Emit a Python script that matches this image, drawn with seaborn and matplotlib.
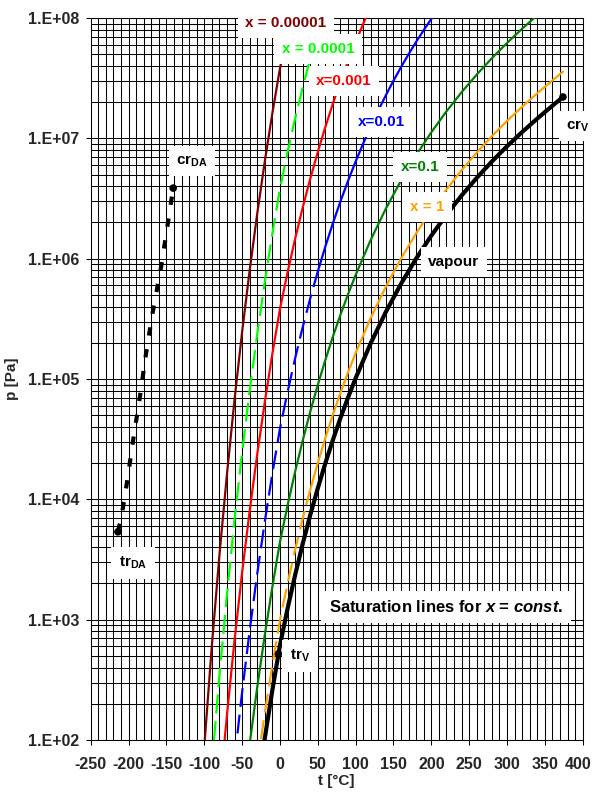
import numpy as np
import pandas as pd
import matplotlib
matplotlib.use("Agg")
import matplotlib.pyplot as plt
import matplotlib.ticker as mticker
import matplotlib.transforms as mtransforms
import seaborn as sns

# ---------------- data ----------------
t_x00001 = [-100, -90, -80, -70, -60, -50, -40, -30, -20, -10, 0, 10, 15]
p_x00001 = [87.1, 601, 3402, 16110, 67177, 245072, 798660, 2.364e6, 6.425e6, 1.6166e7, 3.802e7, 7.638e7, 1.0605e8]

t_x0001 = [-90, -80, -70, -60, -50, -40, -30, -20, -10, 0, 10, 20, 30, 40, 50, 55, 60]
p_x0001 = [60.2, 340.3, 1611, 6719, 24511, 79878, 236400, 642600, 1.6168e6, 3.802e6, 7.639e6,
           1.4551e7, 2.642e7, 4.594e7, 7.684e7, 9.806e7, 1.2408e8]

t_x001 = [-80, -70, -60, -50, -40, -30, -20, -10, 0, 10, 20, 30, 40, 50, 60, 70, 80, 90, 100, 110, 120]
p_x001 = [34.1, 161.4, 672.8, 2455, 7999, 23674, 64356, 161918, 380778, 765044, 1.4572e6, 2.6459e6,
          4.6002e6, 7.6953e6, 1.2426e7, 1.9438e7, 2.9539e7, 4.3723e7, 6.3183e7, 8.9326e7, 1.2377e8]

t_x01 = [-60, -50, -40, -30, -20, -10, 0, 10, 20, 30, 40, 50, 60, 70, 80, 90, 100, 110, 120, 130,
         140, 150, 160, 170, 180, 190, 200, 210]
p_x01 = [68.3, 249.0, 811.5, 2402, 6529, 16426, 38628, 77610, 147825, 268410, 466669, 780646,
         1.2606e6, 1.9719e6, 2.9966e6, 4.4355e6, 6.4096e6, 9.0616e6, 1.2556e7, 1.7082e7, 2.2849e7,
         3.0093e7, 3.9072e7, 5.0066e7, 6.3377e7, 7.9329e7, 9.8270e7, 1.2057e8]

t_x1 = [-45, -40, -30, -20, -10, 0, 10, 20, 30, 40, 50, 60, 70, 80, 90, 100, 120, 140, 160, 180,
        200, 220, 240, 260, 280, 300, 320, 340]
p_x1 = [52.0, 92.7, 274.4, 745.8, 1876, 4413, 8866, 16888, 30663, 53312, 89181, 144010, 225271,
        342329, 506714, 732238, 1.4344e6, 2.6103e6, 4.4636e6, 7.2402e6, 1.1226e7, 1.6748e7,
        2.4165e7, 3.3878e7, 4.6328e7, 6.2005e7, 8.1470e7, 1.0542e8]

t_xone = [-30, -20, -10, 0, 10, 20, 30, 35, 40, 50, 60, 70, 80, 90, 100, 120, 140, 160, 180, 200,
          220, 240, 260, 280, 300, 320, 340, 360, 373.9]
p_xone = [61.6, 167.6, 421.6, 991.4, 1992, 3794, 6889, 9130, 11977, 20035, 32352, 50608, 76906,
          113835, 164500, 322243, 586418, 1.0028e6, 1.6265e6, 2.5220e6, 3.7624e6, 5.4287e6,
          7.6109e6, 1.0408e7, 1.3930e7, 1.8303e7, 2.3683e7, 3.0276e7, 3.578e7]

t_vap = [-30, -20, -10, 0, 10, 20, 30, 40, 50, 60, 70, 80, 90, 100, 120, 140, 160, 180, 200, 220,
         240, 260, 280, 300, 320, 340, 360, 373.9]
p_vap = [38.0, 103.3, 259.9, 611.2, 1228, 2339, 4247, 7384, 12352, 19946, 31201, 47414, 70182,
         101418, 198670, 361540, 618230, 1.0028e6, 1.5549e6, 2.3196e6, 3.3469e6, 4.6923e6,
         6.4166e6, 8.5879e6, 11.284e6, 14.601e6, 18.666e6, 22.06e6]

t_da = [-214, -209, -202, -194, -185, -177, -168, -157, -148, -141]
p_da = [5.37e3, 7.41e3, 1.39e4, 3.09e4, 7.08e4, 1.61e5, 3.61e5, 8.51e5, 1.98e6, 3.86e6]

pt_names = ["crV", "crDA", "trDA", "trV"]
pt_t = [373.9, -141, -214, -2]
pt_p = [2.206e7, 3.86e6, 5.37e3, 520]

x_ticks = [-250, -200, -150, -100, -50, 0, 50, 100, 150, 200, 250, 300, 350, 400]
y_ticks = [1e2, 1e3, 1e4, 1e5, 1e6, 1e7, 1e8]
y_ticklabels = ["1.E+02", "1.E+03", "1.E+04", "1.E+05", "1.E+06", "1.E+07", "1.E+08"]

# ---------------- style ----------------
sns.set_theme(style="white")
plt.rcParams["font.family"] = ["Liberation Sans", "DejaVu Sans"]
plt.rcParams["font.weight"] = "bold"
plt.rcParams["mathtext.fontset"] = "custom"
plt.rcParams["mathtext.rm"] = "Liberation Sans:bold"
plt.rcParams["mathtext.bf"] = "Liberation Sans:bold"
plt.rcParams["mathtext.it"] = "Liberation Sans:bold:italic"

fig = plt.figure(figsize=(5.94, 7.92), dpi=100)
L, R, B, T = 90.7 / 594, 582.7 / 594, 1 - 740 / 792, 1 - 18 / 792
ax = fig.add_axes([L, B, R - L, T - B])

DASH = (0, (8.5, 3.5))


def draw(t, p, color, lw, ls="-", split=None, z=3):
    df = pd.DataFrame({"t": t, "p": p})
    if split is None:
        segs = [(df, ls)]
    else:
        segs = [(df[df.t <= split], DASH), (df[df.t >= split], "-")]
    for d, style in segs:
        sns.lineplot(data=d, x="t", y="p", ax=ax, color=color, lw=lw, linestyle=style,
                     estimator=None, sort=False, zorder=z)


draw(t_x00001, p_x00001, "#800000", 1.6)
draw(t_x0001, p_x0001, "#00ff00", 1.6, ls=DASH)
draw(t_x001, p_x001, "#ff0000", 1.6)
draw(t_x01, p_x01, "#0000ff", 1.6, split=50)
draw(t_x1, p_x1, "#008000", 1.6)
draw(t_xone, p_xone, "#ffa000", 1.6, split=35)
draw(t_vap, p_vap, "#000000", 3.0)
draw(t_da, p_da, "#000000", 3.0, ls=(0, (2.0, 3.3)))
for ln in ax.lines[-1:]:
    ln.set_dash_capstyle("butt")

sns.scatterplot(x=pt_t, y=pt_p, ax=ax, color="black", s=30, zorder=5, edgecolor="none")

ax.set_yscale("log")
ax.set_xlim(-250, 400)
ax.set_ylim(1e2, 1e8)
ax.set_xticks(x_ticks)
ax.set_xticklabels([str(v) for v in x_ticks])
ax.xaxis.set_minor_locator(mticker.MultipleLocator(10))
ax.set_yticks(y_ticks)
ax.set_yticklabels(y_ticklabels)
ax.yaxis.set_minor_locator(mticker.LogLocator(base=10, subs=np.arange(2, 10), numticks=20))
ax.yaxis.set_minor_formatter(mticker.NullFormatter())

ax.grid(True, which="both", color="black", lw=0.75)
ax.set_axisbelow(True)
ax.tick_params(which="major", direction="out", length=3.5, width=0.75, color="black",
               labelsize=11.5, left=True, bottom=True)
ax.tick_params(axis="y", which="major", pad=5)
ax.tick_params(axis="x", which="major", pad=9)
ax.tick_params(which="minor", length=0)
for lab in ax.get_xticklabels() + ax.get_yticklabels():
    lab.set_fontweight("bold")
# keep the last x tick label ("400") inside the figure
last = ax.get_xticklabels()[-1]
last.set_transform(last.get_transform() +
                   mtransforms.ScaledTranslation(-3 / 72, 0, fig.dpi_scale_trans))
for s in ax.spines.values():
    s.set_color("black")
    s.set_linewidth(0.75)

ax.set_xlabel("t [°C]", fontsize=11, fontweight="bold", labelpad=1)
ax.set_ylabel("p [Pa]", fontsize=11, fontweight="bold", labelpad=6)


def label(px, py, text, color="black", size=11):
    fx = (px - 90.7) / 492.0
    fy = (740 - py) / 722.0
    ax.text(fx, fy, text, transform=ax.transAxes, ha="center", va="center", color=color,
            fontsize=size, fontweight="bold", zorder=10, clip_on=False,
            bbox=dict(boxstyle="square,pad=0.5", fc="white", ec="none"))


label(286, 23, "x = 0.00001", "#800000")
label(318, 49, "x = 0.0001", "#00ff00")
label(344, 81, "x=0.001", "#ff0000")
label(381, 122, "x=0.01", "#0000ff")
label(420, 167, "x=0.1", "#008000")
label(427, 207, "x = 1", "#ffa000")
label(454, 262, "vapour")
label(578, 126, r"cr$_\mathrm{V}$")
label(192, 161, r"cr$_\mathrm{DA}$")
label(133, 563, r"tr$_\mathrm{DA}$")
label(300, 656, r"tr$_\mathrm{V}$")
label(446, 607, r"Saturation lines for $x$ = $\mathit{const.}$", size=12)

fig.savefig("out.png", dpi=100)
